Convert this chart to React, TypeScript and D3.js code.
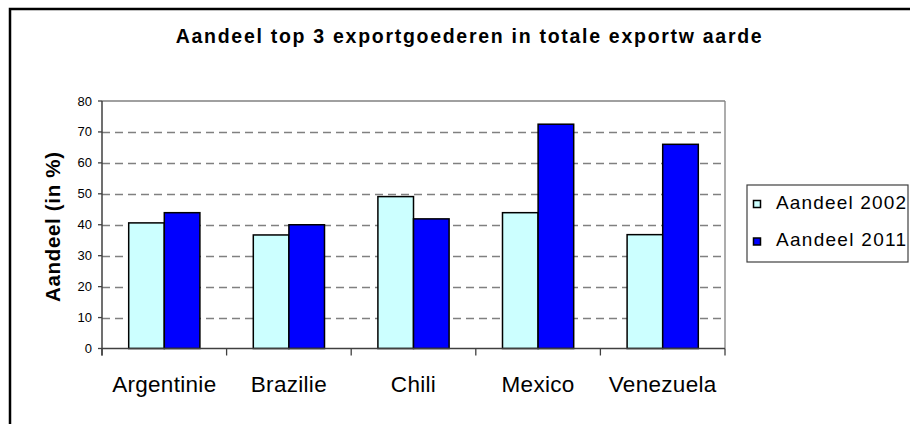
import React from "react";
import * as d3 from "d3";

const categories = ["Argentinie", "Brazilie", "Chili", "Mexico", "Venezuela"];
const seriesNames = ["Aandeel 2002", "Aandeel 2011"];
const values2002 = [40.6, 36.7, 49.1, 43.9, 36.8];
const values2011 = [43.9, 40.0, 41.9, 72.5, 66.0];
const yTicks = [0, 10, 20, 30, 40, 50, 60, 70, 80];
const colors = ["#CCFFFF", "#0000FF"];

const W = 910;
const H = 424;
const FONT = "'Liberation Sans', Arial, sans-serif";

export default function App() {
  const plotL = 102;
  const plotR = 725;
  const plotT = 101;
  const plotB = 348.5;

  const x = d3.scaleBand<string>().domain(categories).range([plotL, plotR]).padding(0);
  const step = x.step();
  const barW = step / 3.5;
  const groupOff = step * 0.75 / 3.5;
  const y = d3.scaleLinear().domain([0, 80]).range([plotB, plotT]);
  const series = [values2002, values2011];

  return (
    <svg width={W} height={H} style={{ position: "absolute", left: 0, top: 0, display: "block" }}>
      <rect x={0} y={0} width={W} height={H} fill="#fff" />
      {/* outer chart border */}
      <rect x={10} y={9} width={W + 20} height={H + 20} fill="none" stroke="#000" strokeWidth={2.5} />

      {/* title */}
      <text x={468.7} y={43} textAnchor="middle" fontFamily={FONT} fontWeight="bold" fontSize={19.5}
        textLength={586} lengthAdjust="spacing" fill="#000">
        Aandeel top 3 exportgoederen in totale exportw aarde
      </text>

      {/* gridlines */}
      {yTicks.filter((t) => t > 0 && t < 80).map((t) => (
        <line key={"g" + t} x1={plotL} x2={plotR} y1={Math.round(y(t)) + 0.5} y2={Math.round(y(t)) + 0.5}
          stroke="#808080" strokeWidth={1.3} strokeDasharray="8,5" />
      ))}
      {/* plot border top & right */}
      <line x1={plotL} x2={plotR} y1={plotT} y2={plotT} stroke="#808080" strokeWidth={1.3} />
      <line x1={plotR} x2={plotR} y1={plotT} y2={plotB} stroke="#808080" strokeWidth={1.3} />

      {/* bars */}
      {series.map((vals, si) =>
        vals.map((v, i) => (
          <rect key={`b${si}-${i}`} x={(x(categories[i]) as number) + groupOff + si * barW} y={y(v)}
            width={barW} height={plotB - y(v)} fill={colors[si]} stroke="#000" strokeWidth={1.5} />
        ))
      )}

      {/* y axis */}
      <line x1={plotL} x2={plotL} y1={plotT} y2={plotB + 7} stroke="#404040" strokeWidth={1.5} />
      {yTicks.map((t) => (
        <g key={"t" + t}>
          <line x1={plotL - 4} x2={plotL} y1={y(t)} y2={y(t)} stroke="#404040" strokeWidth={1.3} />
          <text x={92} y={y(t) + 4.5} textAnchor="end" fontFamily={FONT} fontSize={13} fill="#000">{t}</text>
        </g>
      ))}

      {/* x axis */}
      <line x1={plotL} x2={plotR} y1={plotB} y2={plotB} stroke="#404040" strokeWidth={1.5} />
      {d3.range(categories.length + 1).map((i) => (
        <line key={"xt" + i} x1={plotL + i * step} x2={plotL + i * step} y1={plotB} y2={plotB + 7}
          stroke="#404040" strokeWidth={1.3} />
      ))}
      {categories.map((c) => (
        <text key={c} x={(x(c) as number) + step / 2} y={392} textAnchor="middle" fontFamily={FONT}
          fontSize={22.5} letterSpacing={0.3} fill="#000">{c}</text>
      ))}

      {/* y axis title */}
      <text transform={`translate(60, 227) rotate(-90)`} textAnchor="middle" fontFamily={FONT}
        fontWeight="bold" fontSize={20.5} textLength={150} lengthAdjust="spacing" fill="#000">
        Aandeel (in %)
      </text>

      {/* legend */}
      <rect x={747} y={185} width={161} height={77} fill="#fff" stroke="#404040" strokeWidth={1.2} />
      {seriesNames.map((n, i) => (
        <g key={n}>
          <rect x={753.5} y={200.5 + i * 37.5} width={7} height={7} fill={colors[i]} stroke="#000" strokeWidth={1.5} />
          <text x={776} y={208.5 + i * 37.5} fontFamily={FONT} fontSize={19} textLength={130}
            lengthAdjust="spacing" fill="#000">{n}</text>
        </g>
      ))}
    </svg>
  );
}
